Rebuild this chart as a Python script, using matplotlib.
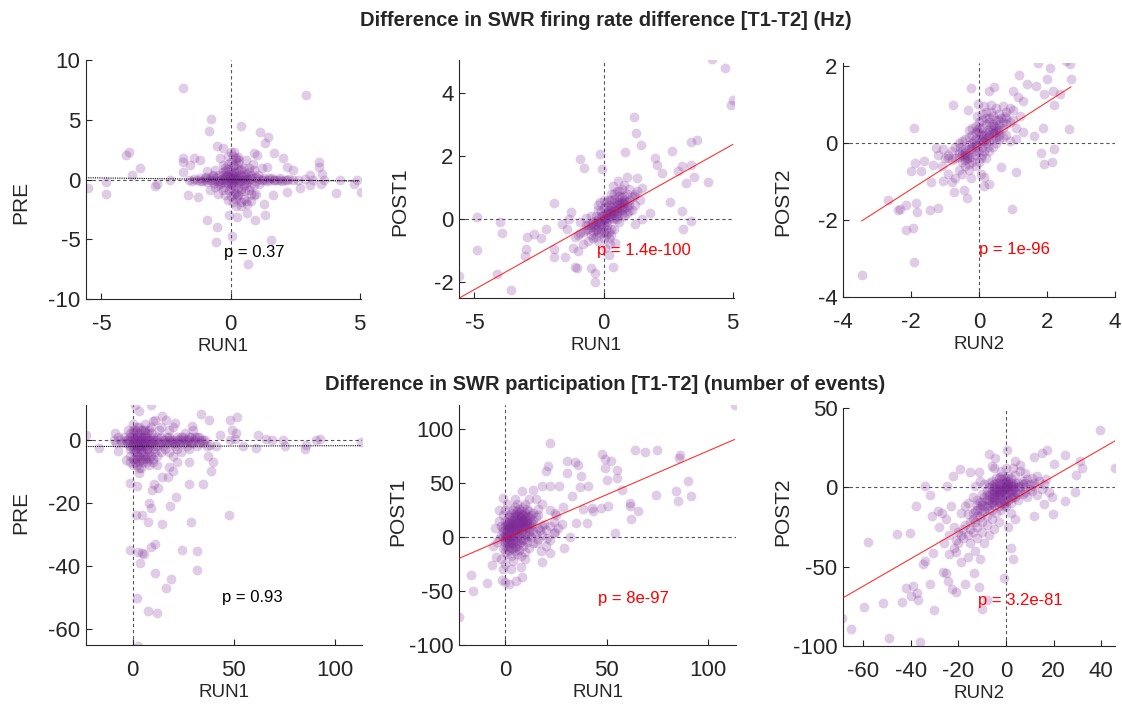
import numpy as np
import matplotlib
matplotlib.use('Agg')
import matplotlib.pyplot as plt

plt.rcParams['font.family'] = ['Liberation Sans', 'DejaVu Sans']
plt.rcParams['axes.unicode_minus'] = False

PURPLE = '#7B2595'

# ---- firing rate difference panels (Hz) ----
pre_run1_fr = [
    (-1.85, 7.68), (2.91, 7.07), (-0.74, 5.03), (-0.83, 4.05), (0.42, 4.5), (1.12, 4.0), (1.44, 3.58),
    (1.34, 3.02), (-0.51, 2.79), (-0.29, 2.65), (-3.95, 2.32), (-4.04, 2.01), (-3.51, 1.0), (-3.83, 0.36),
    (-5.51, -0.75), (-4.82, -0.2), (-4.82, -1.23), (-2.93, -0.53), (-2.84, -0.39), (-2.36, -0.06),
    (-1.85, 1.76), (-1.84, 1.48), (-1.40, 1.84), (-1.17, 1.62), (-1.59, 1.2), (-1.85, 0.64), (-1.66, -1.26),
    (-1.25, -1.45), (-0.93, -3.41), (-0.51, -3.97), (-0.55, -5.22), (0.06, -4.69), (0.66, -7.09),
    (1.56, -5.08), (-0.06, -2.99), (0.23, -3.13), (0.64, -2.79), (0.96, -3.41), (1.34, -2.99), (0.64, -2.01),
    (1.28, -2.01), (1.66, -1.31), (2.17, -1.03), (2.68, -0.75), (3.06, -0.47), (3.51, -0.34), (3.44, 1.48),
    (3.44, 1.06), (3.55, 0.5), (3.06, 0.36), (4.08, -1.09), (4.23, 0.0), (4.76, -0.39), (4.91, -0.06),
    (5.04, -1.03), (1.68, 2.18), (2.04, 1.76), (2.19, 1.06), (2.42, 0.78), (1.40, 1.06), (1.02, 2.04),
    (0.89, 2.18), (0.13, 2.32), (0.32, 1.62),
    (-1.6, 0.0), (-1.5, -0.1), (-1.4, 0.05), (-1.3, -0.05), (-1.2, 0.1), (-1.1, -0.1), (-1.0, 0.0),
    (-0.95, 0.2), (-0.9, -0.2), (-0.8, 0.1), (-0.75, -0.05), (-0.7, 0.3), (-0.65, -0.3), (-0.6, 0.0),
    (-0.55, 0.15), (-0.5, -0.1), (-0.45, 0.4), (-0.4, -0.4), (-0.35, 0.05), (-0.3, 0.6), (-0.25, -0.6),
    (-0.2, 0.2), (-0.15, -0.2), (-0.1, 0.9), (-0.05, -0.9), (0.0, 0.0), (0.05, 0.5), (0.1, -0.5),
    (0.12, 1.2), (0.15, -1.2), (0.2, 0.1), (0.22, 1.6), (0.25, -1.5), (0.3, 0.3), (0.32, -0.3), (0.35, 0.8),
    (0.4, -0.8), (0.45, 0.0), (0.5, 1.0), (0.55, -1.0), (0.6, 0.2), (0.65, -0.2), (0.7, 0.6), (0.75, -0.6),
    (0.8, 0.05), (0.85, 1.3), (0.9, -1.3), (0.95, 0.1), (1.0, -0.1), (1.05, 0.4), (1.1, -0.4), (1.2, 0.0),
    (1.3, 0.15), (1.4, -0.15), (1.5, 0.0), (1.6, 0.1), (1.7, -0.05), (1.8, 0.0), (1.9, 0.1), (2.0, -0.1),
    (2.1, 0.0), (2.25, 0.05), (2.4, -0.05), (2.6, 0.0), (2.9, 0.05), (3.2, -0.05), (3.6, 0.0),
    (0.1, 0.3), (-0.2, 0.7), (0.3, -0.7), (0.0, 1.5), (0.1, 2.0), (-0.3, 1.2), (0.5, -1.6), (0.4, -1.9),
    (0.2, -2.2), (-0.5, -1.2), (-0.6, 0.8), (0.6, 1.6), (0.8, -1.8), (-0.1, -1.7), (0.0, 2.3), (-0.4, 1.8),
    (1.2, 1.0), (1.0, -1.2), (-0.8, -0.9), (-0.9, 0.7), (0.2, 0.0), (0.1, -0.1), (0.05, 0.1), (-0.05, 0.0),
    (0.3, 0.05), (0.15, 0.6), (0.25, -0.2), (-0.15, 0.3), (0.4, 0.4), (0.0, -0.4),
]
pre_run1_fr_core = [
    (0.0, 0.2), (0.1, 0.4), (0.2, 0.6), (0.3, 0.9), (0.1, 1.1), (0.0, 0.8), (-0.1, 0.5), (-0.2, 0.1),
    (-0.3, -0.2), (-0.1, -0.3), (0.0, -0.7), (0.1, -0.9), (0.2, -1.1), (0.3, -1.3), (0.4, -1.0), (0.5, -0.5),
    (0.6, -0.3), (0.5, 0.3), (0.6, 0.5), (0.4, 0.9), (0.3, 1.4), (0.2, 1.8), (-0.1, 1.3), (-0.2, 1.0),
    (-0.3, 0.4), (-0.4, 0.0), (-0.5, -0.5), (-0.3, -0.9), (-0.2, -1.3), (0.0, -1.4), (0.2, -1.6), (0.7, -0.9),
    (0.8, 0.4), (0.7, 1.0), (0.9, 0.8), (1.0, 0.2), (0.9, -0.5), (0.8, -1.2), (-0.6, -0.6), (-0.7, 0.4),
    (0.15, 0.05), (0.25, 0.15), (0.35, -0.1), (0.05, -0.2), (-0.05, 0.25), (0.45, 0.2), (0.55, -0.05),
    (-0.25, -0.05), (0.65, 0.05), (0.75, 0.1), (-0.8, 0.0), (-1.0, 0.1), (-1.2, -0.1), (1.1, 0.05),
    (1.3, -0.05), (1.5, 0.1), (1.7, 0.0), (1.9, -0.05), (2.2, 0.0), (0.3, 1.9), (0.1, -1.9), (0.4, -2.2),
    (0.6, -1.8), (-0.1, 2.0),
]

post1_run1_fr = [
    (4.20, 5.07), (4.71, 4.79), (5.0, 3.79), (4.92, 3.61), (1.16, 3.24), (1.25, 2.74), (3.38, 2.45),
    (3.63, 2.51), (2.66, 2.16), (1.45, 2.34), (0.83, 2.13), (-0.13, 2.06), (-0.9, 1.9), (-0.77, 1.61),
    (-0.06, 1.59), (1.99, 1.95), (2.07, 1.71), (2.25, 1.48), (3.02, 1.69), (3.40, 1.71), (2.89, 1.53),
    (3.18, 1.14), (3.50, 1.35), (4.04, 1.19), (2.57, 0.56), (3.02, 0.27), (3.38, -0.06), (3.08, -0.3),
    (1.80, 0.2), (1.50, 0.01), (1.22, -0.15), (-4.92, 0.06), (-4.02, -0.09), (-3.92, -0.44), (-4.92, -0.97),
    (-5.61, -1.80), (-4.11, -1.75), (-3.59, -2.25), (-2.95, -0.57), (-2.70, -0.46), (-2.44, -0.6),
    (-3.02, -0.96), (-3.04, -1.17), (-1.93, 0.51), (-2.25, -0.3), (-1.93, -0.96), (-1.93, -1.2),
    (-1.48, -1.21), (-1.09, -1.51), (-1.03, -1.56), (-0.47, -1.54), (-0.32, -1.7), (-0.32, -2.0),
    (0.36, -1.51), (0.19, -1.14), (-1.25, 0.22), (-1.35, 0.01), (-1.60, -0.15), (1.19, 0.75),
    (0.0, 0.0), (0.1, 0.05), (-0.1, -0.05), (0.2, 0.1), (-0.2, -0.1), (0.3, 0.2), (-0.3, -0.15), (0.4, 0.25),
    (-0.4, -0.2), (0.5, 0.3), (-0.5, -0.25), (0.6, 0.35), (-0.6, -0.3), (0.7, 0.4), (-0.7, -0.35), (0.8, 0.5),
    (-0.8, -0.4), (0.9, 0.55), (-0.9, -0.45), (1.0, 0.6), (-1.0, -0.5), (1.1, 0.7), (-1.1, -0.55), (1.2, 0.8),
    (1.3, 0.9), (0.1, 0.4), (0.2, 0.6), (0.3, 0.8), (0.5, 0.9), (0.6, 0.75), (0.7, 0.95), (0.4, 0.65),
    (0.0, 0.35), (-0.1, 0.25), (-0.2, 0.3), (-0.3, 0.1), (-0.5, 0.1), (-0.7, 0.05), (-0.9, -0.1), (0.1, -0.3),
    (0.2, -0.4), (0.3, -0.5), (0.0, -0.6), (-0.1, -0.45), (-0.2, -0.7), (-0.3, -0.55), (0.4, -0.3),
    (0.6, -0.1), (0.8, 0.1), (0.9, 0.2), (1.0, 0.25), (1.1, 0.3), (0.5, 0.0), (0.7, 0.15), (-0.4, -0.6),
    (-0.6, -0.7), (-0.8, -0.8), (0.05, -0.9), (0.25, -0.8), (0.45, -0.75), (-0.15, 0.55), (0.35, 1.05),
    (0.55, 1.2), (0.8, 1.1), (1.0, 0.95), (1.2, 0.45), (1.4, 0.6), (1.5, 1.0), (1.3, 1.3), (0.9, 1.35),
    (-1.2, -0.9), (-1.0, -1.0), (-1.4, -0.3), (0.15, 0.15), (-0.05, 0.1), (0.25, 0.3), (0.35, 0.05),
    (-0.25, -0.3),
]
post1_run1_fr_core = [
    (0.0, 0.1), (0.1, 0.2), (0.2, 0.3), (0.3, 0.4), (0.4, 0.5), (0.5, 0.55), (0.6, 0.6), (0.7, 0.7),
    (0.8, 0.75), (0.9, 0.8), (0.0, -0.2), (0.1, -0.1), (0.2, 0.0), (0.3, 0.1), (0.4, 0.15), (0.5, 0.2),
    (0.6, 0.25), (0.7, 0.3), (0.8, 0.35), (-0.1, 0.1), (-0.2, 0.0), (-0.3, -0.05), (-0.4, -0.1),
    (-0.5, -0.15), (-0.6, -0.2), (-0.7, -0.2), (-0.1, -0.3), (-0.2, -0.4), (-0.3, -0.35), (-0.4, -0.4),
    (-0.5, -0.5), (0.0, -0.4), (0.1, -0.5), (0.2, -0.6), (0.3, -0.3), (0.4, 0.0), (0.5, 0.45), (0.6, 0.5),
    (0.7, 0.55), (0.2, 0.45), (0.3, 0.6), (0.1, 0.55), (0.0, 0.6), (0.4, 0.8), (0.6, 0.9), (0.8, 0.6),
    (0.9, 0.4), (1.0, 0.45), (-0.2, 0.45), (-0.05, -0.15), (0.05, 0.0), (0.15, -0.2), (0.25, 0.2),
    (0.35, 0.3), (0.45, 0.35), (-0.15, -0.15), (-0.35, -0.25), (0.55, 0.1), (0.65, 0.45), (0.75, 0.5),
]

post2_run2_fr = [
    (-3.44, -3.44), (-1.90, -3.10), (-2.15, -2.26), (-1.95, -2.20), (-2.37, -1.75), (-2.31, -1.72),
    (-2.69, -1.49), (-2.14, -1.62), (-1.82, -1.79), (-1.84, -1.56), (-1.43, -1.73), (-1.22, -1.69),
    (-1.92, 0.39), (-0.77, 0.99), (-0.33, 0.85), (-0.25, 1.42), (0.30, 1.34), (0.45, 1.45), (-0.02, 1.02),
    (1.19, 1.77), (0.99, 1.34), (1.16, 1.19), (1.28, 1.08), (1.41, 1.53), (1.68, 1.47), (1.73, 2.07),
    (2.10, 1.94), (2.00, 1.66), (2.56, 2.13), (2.69, 2.05), (2.71, 1.66), (2.17, 1.34), (2.39, 1.28),
    (1.92, 1.28), (2.22, 0.99), (2.66, 0.37), (1.87, 0.39), (1.63, 0.18), (2.20, -0.16), (1.82, -0.27),
    (1.92, -0.55), (2.16, -0.48), (1.09, -0.76), (0.96, -1.72), (0.65, -0.63), (0.14, -0.89), (0.14, -1.11),
    (0.30, -1.06), (-0.35, -1.43), (-0.45, -1.23), (-0.73, -1.28), (-1.07, -0.98), (-1.41, -1.02),
    (-1.71, -0.72), (-2.0, -0.72), (-1.87, -0.51), (-1.61, -0.46), (-1.36, -0.57), (-1.26, -0.12),
    (-1.07, -0.16), (-0.92, -0.38),
    (0.0, 0.0), (0.1, 0.05), (-0.1, -0.05), (0.2, 0.1), (-0.2, -0.1), (0.3, 0.2), (-0.3, -0.15), (0.4, 0.25),
    (-0.4, -0.25), (0.5, 0.3), (-0.5, -0.3), (0.6, 0.35), (-0.6, -0.35), (0.7, 0.4), (-0.7, -0.4), (0.8, 0.5),
    (-0.8, -0.45), (0.9, 0.55), (1.0, 0.6), (0.0, 0.4), (0.1, 0.6), (0.2, 0.8), (0.3, 0.55), (0.4, 0.7),
    (0.5, 0.9), (0.6, 0.75), (0.7, 0.95), (0.8, 0.8), (0.9, 0.9), (1.0, 0.85), (-0.1, 0.3), (-0.2, 0.2),
    (-0.3, 0.35), (-0.4, 0.1), (-0.5, 0.05), (-0.6, 0.0), (-0.7, -0.1), (-0.8, -0.2), (-0.9, -0.3),
    (-1.0, -0.4), (0.1, -0.3), (0.2, -0.4), (0.3, -0.2), (0.4, -0.1), (0.5, 0.0), (0.6, 0.1), (0.7, 0.15),
    (0.8, 0.2), (0.0, -0.5), (-0.1, -0.6), (-0.2, -0.5), (-0.3, -0.7), (-0.4, -0.6), (-0.5, -0.8),
    (-0.6, -0.7), (-0.7, -0.9), (0.05, -0.8), (-0.25, -0.9), (0.15, 0.95), (-0.05, 0.7), (0.35, 1.0),
    (0.55, 0.6), (0.25, 0.35), (-0.15, 0.05), (0.15, 0.2), (-0.35, -0.4), (0.45, 0.45), (1.1, 0.4),
    (1.2, 0.7), (1.3, 0.3), (1.1, 0.1), (0.9, 0.05), (-0.9, -0.8), (-1.1, -0.6), (-1.2, -0.3), (-0.8, -1.0),
]
post2_run2_fr_core = [
    (0.0, 0.1), (0.1, 0.15), (0.2, 0.25), (0.3, 0.3), (0.4, 0.35), (0.5, 0.4), (0.6, 0.5), (0.7, 0.55),
    (0.0, -0.2), (0.1, -0.1), (0.2, 0.0), (0.3, 0.05), (0.4, 0.1), (0.5, 0.15), (0.6, 0.2), (-0.1, 0.1),
    (-0.2, 0.0), (-0.3, -0.05), (-0.4, -0.15), (-0.5, -0.2), (-0.6, -0.25), (-0.1, -0.3), (-0.2, -0.35),
    (-0.3, -0.4), (-0.4, -0.45), (-0.5, -0.5), (0.0, 0.3), (0.1, 0.4), (0.2, 0.5), (0.3, 0.65), (0.4, 0.5),
    (0.5, 0.6), (-0.1, 0.45), (-0.2, 0.4), (0.0, 0.55), (0.1, 0.75), (-0.3, 0.15), (-0.4, -0.3),
    (0.05, -0.4), (-0.05, -0.1), (0.15, 0.05), (0.25, 0.15), (0.35, 0.45), (0.45, 0.25), (0.55, 0.35),
    (0.65, 0.65), (0.75, 0.7), (-0.15, -0.2), (-0.25, -0.15), (-0.35, -0.3), (-0.45, -0.35), (0.15, -0.2),
    (0.25, -0.1), (-0.55, -0.1), (0.05, 0.2), (-0.05, 0.35), (0.2, 0.65), (0.35, 0.8), (-0.3, -0.55),
    (0.8, 0.65),
]

# ---- participation difference panels (number of events) ----
pre_run1_part = [
    (1.2, 11.1), (8.9, 11.1), (3.3, 9.0), (14.8, 7.6), (33.8, 8.2), (51.9, 7.2), (48.1, 6.4), (37.9, 6.2),
    (11.0, 6.4), (16.8, 6.2), (21.2, 5.3), (29.2, 4.2), (49.1, 3.2), (51.1, 2.1), (43.2, 1.6), (-23.0, 1.4),
    (-16.5, -2.7), (-8.7, 2.1), (-7.1, -3.7), (-3.0, -6.4), (-1.3, -13.8), (2.0, -14.8), (1.6, -23.9),
    (4.9, -23.9), (7.7, -26.0), (-1.3, -35.0), (2.8, -35.5), (4.9, -35.8), (5.6, -36.1), (3.6, -39.0),
    (8.9, -33.9), (11.0, -32.9), (11.0, -42.2), (18.8, -44.0), (16.8, -47.0), (2.0, -50.1), (7.7, -54.1),
    (11.9, -54.9), (2.5, -65.2), (24.7, -35.0), (31.9, -35.2), (31.9, -41.1), (47.8, -23.9), (28.8, -26.0),
    (14.7, -26.8), (8.2, -20.0), (8.9, -21.7), (21.7, -18.0), (18.5, -21.0), (9.7, -15.9), (12.7, -15.4),
    (10.5, -14.0), (18.1, -8.7), (19.8, -9.8), (17.6, -11.9), (14.8, -11.7), (28.0, -14.0), (34.9, -14.0),
    (22.2, -6.9), (28.0, -6.9), (37.4, -5.1), (39.9, -6.9), (39.0, -9.8), (3.3, -10.4),
    (113.2, -0.8), (92.9, 0.2), (90.6, -0.2), (85.7, -1.6), (85.2, -3.0), (75.3, -1.9), (74.5, 0.0),
    (69.2, -0.2), (65.9, 0.2), (61.3, -2.7), (62.1, 1.6), (54.7, -1.9), (50.6, 0.2), (48.1, 0.0),
    (41.5, -1.9), (38.2, -1.7),
    (0, 0), (1, -1), (2, 1), (3, -2), (4, 0), (5, -1), (6, 2), (7, -3), (8, 0), (9, -1), (10, 1), (11, -2),
    (12, 0), (13, -1), (14, 1), (15, -2), (16, 0), (17, -1), (18, 1), (19, -1), (20, 0), (21, -2), (22, 0),
    (23, -1), (24, 1), (25, -1), (26, 0), (27, -2), (28, 0), (29, 1), (30, -1), (31, 0), (32, -2), (33, 1),
    (34, 0), (35, -1), (36, 0), (37, -2), (-1, 2), (-2, -1), (-3, 0), (-4, 1), (-5, -1), (-6, 0), (-7, 1),
    (-8, -1), (-9, 0), (0, 3), (1, -4), (2, -5), (3, 4), (4, -6), (5, -7), (6, 3), (7, -5), (8, -8), (9, 4),
    (10, -6), (11, -4), (12, -8), (13, 3), (0, -3), (1, -6), (2, -8), (3, -3), (4, -9), (5, -4), (6, -6),
    (-1, -2), (-2, 3), (-1, -5), (0, 5), (2, 2), (4, 3), (6, -2), (8, -4), (10, -3), (12, -5), (14, -4),
    (16, -3), (18, -4), (20, -5), (22, -3), (24, -4), (26, 2), (28, -3), (30, 3), (32, 1), (6, 5), (10, 6),
    (14, 4), (18, 3), (20, 4), (1, 1), (3, 0), (5, 1), (7, 0), (9, 2), (2, -2), (4, -3), (0, -1), (-1, 0),
]
pre_run1_part_core = [
    (0, 1), (1, 0), (2, -1), (3, 1), (4, -2), (5, 0), (6, -1), (7, 1), (8, -2), (9, 0), (10, -1), (11, 0),
    (12, -2), (0, -2), (1, -3), (2, -4), (3, -5), (4, -4), (5, -6), (6, -5), (7, -7), (8, -6), (9, -5),
    (10, -7), (0, 2), (1, 3), (2, 4), (3, 2), (4, 1), (5, 3), (6, 1), (7, 2), (8, 3), (-1, 1), (-2, 0),
    (-3, -1), (-1, -3), (0, -6), (1, -7), (2, -6), (3, -7), (-1, -7), (0, -8), (3, -9), (15, 0), (17, 1),
    (19, 0), (21, -1), (23, 0), (25, 1), (27, 0), (29, -1), (31, 1), (33, -1), (35, 0), (14, -1), (16, -1),
    (18, 0), (20, -1), (22, 1), (24, 0), (26, -1), (28, 1), (30, 0), (2, 0), (4, -1), (6, 0), (8, -1),
    (10, 0), (12, 1), (5, -2), (7, -3), (3, -1),
]

post1_run1_part = [
    (113.1, 122.4), (22.1, 87.0), (48.0, 77.0), (49.2, 72.0), (52.0, 69.9), (30.7, 69.9), (34.4, 68.9),
    (36.1, 66.8), (21.3, 65.8), (20.2, 60.6), (30.3, 59.0), (37.2, 55.9), (49.2, 63.7), (55.2, 61.5),
    (55.2, 54.4), (50.3, 52.9), (57.4, 43.6), (63.9, 80.1), (68.9, 78.2), (74.9, 80.7), (86.4, 76.0),
    (85.7, 72.9), (90.2, 51.3), (91.8, 37.4), (84.1, 42.0), (85.2, 32.8), (74.3, 38.9), (61.5, 31.2),
    (61.8, 28.7), (65.6, 23.5), (62.3, 16.4), (54.1, 4.0), (50.8, 28.7), (47.5, 26.6), (43.4, 23.5),
    (42.6, 26.6), (38.2, 25.7), (32.0, 0.3), (29.0, -10.5), (18.0, -22.9), (17.5, -12.7), (22.1, -15.1),
    (-22.5, -73.9), (-15.9, -49.8), (-16.9, -35.2), (-8.7, -42.3), (-1.6, -39.9), (0.0, -41.4),
    (2.1, -43.6), (5.4, -40.5), (8.2, -36.8), (-6.6, -26.0), (-4.4, -18.2), (-1.1, 35.9), (8.2, 42.0),
    (13.9, 43.6), (18.0, 46.7), (22.1, 47.3), (26.7, 47.3), (32.8, 38.0), (36.9, 46.1), (41.0, 47.3),
    (28.7, 28.1), (24.6, 21.9), (35.2, 12.7), (40.2, 12.7), (24.6, 4.9), (20.5, -1.2), (15.6, -5.9),
    (0, 0), (1, 3), (2, 5), (3, 8), (4, 10), (5, 12), (6, 14), (7, 16), (8, 18), (9, 20), (10, 22), (0, -5),
    (1, -8), (2, -3), (3, -6), (4, -2), (5, -4), (6, 0), (7, 2), (8, 4), (9, 6), (10, 8), (11, 10), (12, 12),
    (13, 14), (14, 16), (15, 18), (16, 20), (-1, 5), (-2, 2), (-3, -2), (-4, -5), (-1, -10), (0, -14),
    (1, -16), (2, -12), (3, -18), (4, -10), (5, -13), (6, -8), (7, -12), (8, -5), (9, -8), (10, -2),
    (11, -5), (12, 2), (13, 0), (14, 5), (15, 3), (16, 8), (17, 6), (18, 10), (19, 12), (0, 10), (1, 14),
    (2, 18), (3, 22), (4, 25), (5, 28), (6, 30), (7, 26), (8, 24), (9, 28), (10, 30), (11, 26), (12, 24),
    (2, 12), (4, 16), (6, 20), (8, 10), (10, 14), (12, 18), (14, 22), (16, 26), (3, 1), (5, 6), (7, 9),
    (9, 12), (11, 16), (13, 20), (-2, 10), (-3, 15), (-1, 20), (0, 25), (1, 30), (6, -16), (8, -18),
    (10, -14), (12, -10), (14, -6), (16, -2), (18, 2), (20, 6), (22, 10), (24, 14), (20, -8), (22, -3),
    (24, 4), (26, 8), (28, 12), (25, 20), (22, 25), (18, 30), (15, 35), (12, 35), (5, 35), (-3, 25),
    (-5, 8), (-6, -8), (-2, -20), (0, -25), (4, -22), (8, -28), (3, -30), (-1, -30), (10, -20),
]
post1_run1_part_core = [
    (0, 2), (1, 5), (2, 7), (3, 10), (4, 12), (5, 15), (6, 17), (7, 19), (8, 21), (0, -2), (1, 0), (2, 2),
    (3, 4), (4, 6), (5, 8), (6, 10), (7, 12), (8, 13), (9, 15), (10, 17), (11, 19), (1, -4), (2, -6), (3, -2),
    (4, 0), (5, 2), (6, 4), (7, 6), (8, 7), (9, 9), (10, 11), (11, 13), (0, -8), (2, -9), (4, -6), (6, -4),
    (8, -1), (10, 3), (-1, 0), (-1, 8), (0, 6), (1, 9), (2, 14), (3, 16), (4, 19), (5, 21), (6, 24), (7, 22),
    (8, 15), (9, 17), (10, 19), (3, 13), (5, 18), (2, 9), (4, 4), (6, 7), (1, 11), (3, -10), (5, -9),
    (7, -7), (9, -3), (11, 1), (12, 5), (12, 8), (13, 10), (14, 12), (0, 15), (2, 20),
]

post2_run2_part = [
    (39.7, 36.4), (45.6, 12.1), (31.0, 16.9), (32.0, 12.1), (29.6, 7.8), (28.9, -2.7), (25.0, -8.5),
    (25.0, 20.1), (20.1, 14.8), (17.3, 23.3), (15.2, 21.8), (11.7, 19.0), (0.4, 23.3), (3.9, 16.3),
    (-7.3, 21.1), (-4.5, 18.4), (-5.9, 13.3), (-11.5, 9.5), (-15.0, 9.9), (-19.2, 11.6), (-22.1, 7.4),
    (-24.6, 1.1), (-34.0, 1.1), (-31.9, -4.9), (-37.8, -11.6), (-31.2, -18.0), (-28.4, -14.8),
    (-45.9, -29.6), (-40.3, -29.0), (-57.9, -34.2), (-34.0, -46.5), (-35.0, -48.6), (-30.5, -41.2),
    (-42.0, -63.4), (-38.9, -62.4), (-37.5, -66.6), (-40.0, -68.7), (-36.8, -71.2), (-43.8, -72.5),
    (-51.8, -72.9), (-59.7, -75.5), (-68.7, -82.5), (-64.9, -89.4), (-49.0, -95.1), (-36.1, -97.3),
    (-30.1, -77.2), (-31.9, -60.7), (-26.5, -53.5), (-25.1, -53.9), (-24.2, -59.2), (-22.8, -64.1),
    (-21.0, -66.2), (-17.1, -60.7), (-13.6, -54.3), (-11.1, -62.8), (-10.1, -76.7), (-8.0, -70.8),
    (-1.0, -57.1), (2.9, -45.0), (2.1, -38.1), (11.7, -18.0), (19.8, -16.9), (19.4, -6.3), (15.9, -10.6),
    (0, 0), (-1, -2), (-2, -4), (-3, -1), (-4, -3), (-5, -6), (-6, -2), (-7, -8), (-8, -5), (1, 2), (2, -1),
    (3, 1), (4, -3), (5, 3), (6, -2), (7, 4), (8, 0), (9, 5), (10, 2), (11, 6), (12, 3), (13, 7), (14, 4),
    (-1, 5), (-2, 7), (-3, 3), (-4, 6), (-5, 2), (-6, 4), (-7, 0), (0, -6), (1, -8), (2, -10), (-1, -10),
    (-3, -12), (-5, -11), (-7, -14), (-9, -12), (-10, -16), (-11, -9), (-12, -18), (-13, -14), (-14, -20),
    (-15, -22), (-16, -17), (-10, -4), (-12, -8), (-14, -6), (-16, -10), (-9, 2), (-11, 4), (-13, 1),
    (3, -6), (5, -8), (7, -4), (9, -6), (11, -2), (13, -5), (4, 8), (6, 10), (8, 9), (2, 6), (0, 4), (-2, 0),
    (-4, -8), (-6, -10), (-8, -18), (-10, -22), (-12, -25), (-14, -28), (-16, -30), (-18, -32), (-20, -35),
    (-22, -38), (-24, -42), (-18, -26), (-20, -28), (-22, -25), (-24, -30), (-15, -35), (-13, -40),
    (-11, -45), (-16, -44), (-19, -47), (-21, -41), (-12, -32), (-10, -28), (-8, -24), (-6, -20), (-4, -16),
    (-2, -14), (0, -12), (2, -16), (4, -20), (1, -25), (-3, -22), (-5, -26), (-7, -30), (-9, -35),
    (-25, -20), (-27, -16), (-23, -12), (-28, -25), (-26, -35), (-17, -12), (-19, -16), (15, -1), (16, 2),
    (17, 5), (18, -3), (-2, 10), (0, 12), (-5, 12), (3, 12), (6, 14),
]
post2_run2_part_core = [
    (0, -1), (-1, 0), (-2, -2), (-3, -3), (-4, -5), (-5, -4), (-6, -6), (-7, -5), (-8, -8), (1, 0), (2, 1),
    (3, -1), (4, 0), (1, -3), (2, -4), (3, -5), (0, -4), (-1, -5), (-2, -7), (-3, -6), (-4, -9), (-5, -8),
    (-6, -9), (-7, -11), (0, 2), (-1, 3), (-2, 2), (-3, 1), (-4, 0), (-5, 0), (-6, 1), (-1, -8), (0, -9),
    (-2, -10), (1, 4), (2, 3), (3, 2), (4, 3), (0, 6), (-2, 5), (-4, 3), (-6, -4), (-3, -9), (-1, -12),
    (2, -7), (4, -6), (5, 0), (6, 1), (7, 2), (8, 3), (5, -4), (-8, -2), (-9, -6), (-10, -9), (-11, -13),
    (-12, -11), (-2, -3), (-1, -1), (-3, -4), (0, 1), (1, 1), (2, -2), (-5, -2), (-4, -1),
    (-9, -15), (-11, -19), (-13, -22), (-15, -26), (-17, -24), (-19, -30), (-21, -33), (-14, -16),
    (-8, -12), (-6, -14), (-10, -11), (-12, -14), (8, -3), (10, -1), (12, 1), (-3, 6), (1, 7), (-7, 3),
]

x_labels = ['RUN1', 'RUN1', 'RUN2', 'RUN1', 'RUN1', 'RUN2']
y_labels = ['PRE', 'POST1', 'POST2', 'PRE', 'POST1', 'POST2']
p_texts = ['p = 0.37', 'p = 1.4e-100', 'p = 1e-96', 'p = 0.93', 'p = 8e-97', 'p = 3.2e-81']
significant = [False, True, True, False, True, True]
# fitted line: slope, intercept, x range drawn
fit_slope = [-0.026, 0.46, 0.566, 0.002, 0.81, 0.866]
fit_icept = [0.0, 0.07, -0.07, -2.1, -1.5, -10.4]
fit_xrange = [(-5.6, 5.0), (-5.6, 5.0), (-3.45, 2.7), (-23, 113), (-23, 113), (-68.4, 45.8)]
p_pos = [(-0.27, -6.1), (-0.27, -1.0), (0.0, -2.77), (44.5, -50), (45.8, -57), (-11.8, -71.5)]
xlims = [(-5.6, 5.05), (-5.6, 5.05), (-4, 4), (-23, 113.5), (-22.7, 113.8), (-68.4, 45.8)]
ylims = [(-10, 10), (-2.5, 5.05), (-4, 2.08), (-65, 11), (-100, 122), (-100, 50)]
xticks = [[-5, 0, 5], [-5, 0, 5], [-4, -2, 0, 2, 4], [0, 50, 100], [0, 50, 100], [-60, -40, -20, 0, 20, 40]]
yticks = [[-10, -5, 0, 5, 10], [-2, 0, 2, 4], [-4, -2, 0, 2], [-60, -40, -20, 0], [-100, -50, 0, 50, 100],
          [-100, -50, 0, 50]]
panels = [pre_run1_fr + pre_run1_fr_core, post1_run1_fr + post1_run1_fr_core,
          post2_run2_fr + post2_run2_fr_core, pre_run1_part + pre_run1_part_core,
          post1_run1_part + post1_run1_part_core, post2_run2_part + post2_run2_part_core]

# axes boxes in pixels: left, right, top, bottom
boxes = [(86, 361, 60, 299), (459, 734, 60, 298), (843, 1115, 63, 297),
         (86, 362, 405, 645), (459, 736, 405, 645), (843, 1115, 408, 646)]
# y-label anchor (right edge x, centre y) in pixels
ylabel_px = [(30, 202), (409, 202), (792, 202), (30, 512), (407, 512), (792, 512)]

W, H = 1122, 705
fig = plt.figure(figsize=(W / 100, H / 100), dpi=100)

for i, pts in enumerate(panels):
    l, r, t, b = boxes[i]
    ax = fig.add_axes([l / W, 1 - b / H, (r - l) / W, (b - t) / H])
    pts = np.array(pts, dtype=float)
    ax.scatter(pts[:, 0], pts[:, 1], s=50, color=PURPLE, alpha=0.23, linewidths=0, zorder=2)
    ax.axhline(0, color='#555555', ls=(0, (3, 2.5)), lw=0.8, zorder=1)
    ax.axvline(0, color='#555555', ls=(0, (3, 2.5)), lw=0.8, zorder=1)
    xs = np.array(fit_xrange[i])
    ys = fit_slope[i] * xs + fit_icept[i]
    if significant[i]:
        ax.plot(xs, ys, color='red', lw=0.8, alpha=0.8, zorder=3)
        tc = 'red'
    else:
        ax.plot(xs, ys, color='black', lw=0.8, ls=(0, (1, 1)), zorder=3)
        tc = 'black'
    ax.text(p_pos[i][0], p_pos[i][1], p_texts[i], color=tc, fontsize=12, va='center', ha='left', zorder=4)
    ax.set_xlim(xlims[i])
    ax.set_ylim(ylims[i])
    ax.set_xticks(xticks[i])
    ax.set_yticks(yticks[i])
    ax.spines['top'].set_visible(False)
    ax.spines['right'].set_visible(False)
    for s in ('left', 'bottom'):
        ax.spines[s].set_color('#262626')
        ax.spines[s].set_linewidth(0.8)
    ax.tick_params(direction='in', length=4, width=0.8, color='#262626', labelsize=16, labelcolor='#262626')
    ax.tick_params(axis='x', pad=11)
    ax.tick_params(axis='y', pad=4)
    ax.set_xlabel(x_labels[i], fontsize=13.5, color='#262626', labelpad=2)
    ax.set_ylabel(y_labels[i], fontsize=15, color='#262626')
    lx, ly = ylabel_px[i]
    ax.yaxis.set_label_coords((lx - l) / (r - l), (b - ly) / (b - t))

fig.text(606 / W, 1 - 21 / H, 'Difference in SWR firing rate difference [T1-T2] (Hz)',
         ha='center', va='center', fontsize=14.5, fontweight='bold', color='#262626')
fig.text(605 / W, 1 - 384 / H, 'Difference in SWR participation [T1-T2] (number of events)',
         ha='center', va='center', fontsize=14.5, fontweight='bold', color='#262626')

fig.savefig('out.png', dpi=100)
